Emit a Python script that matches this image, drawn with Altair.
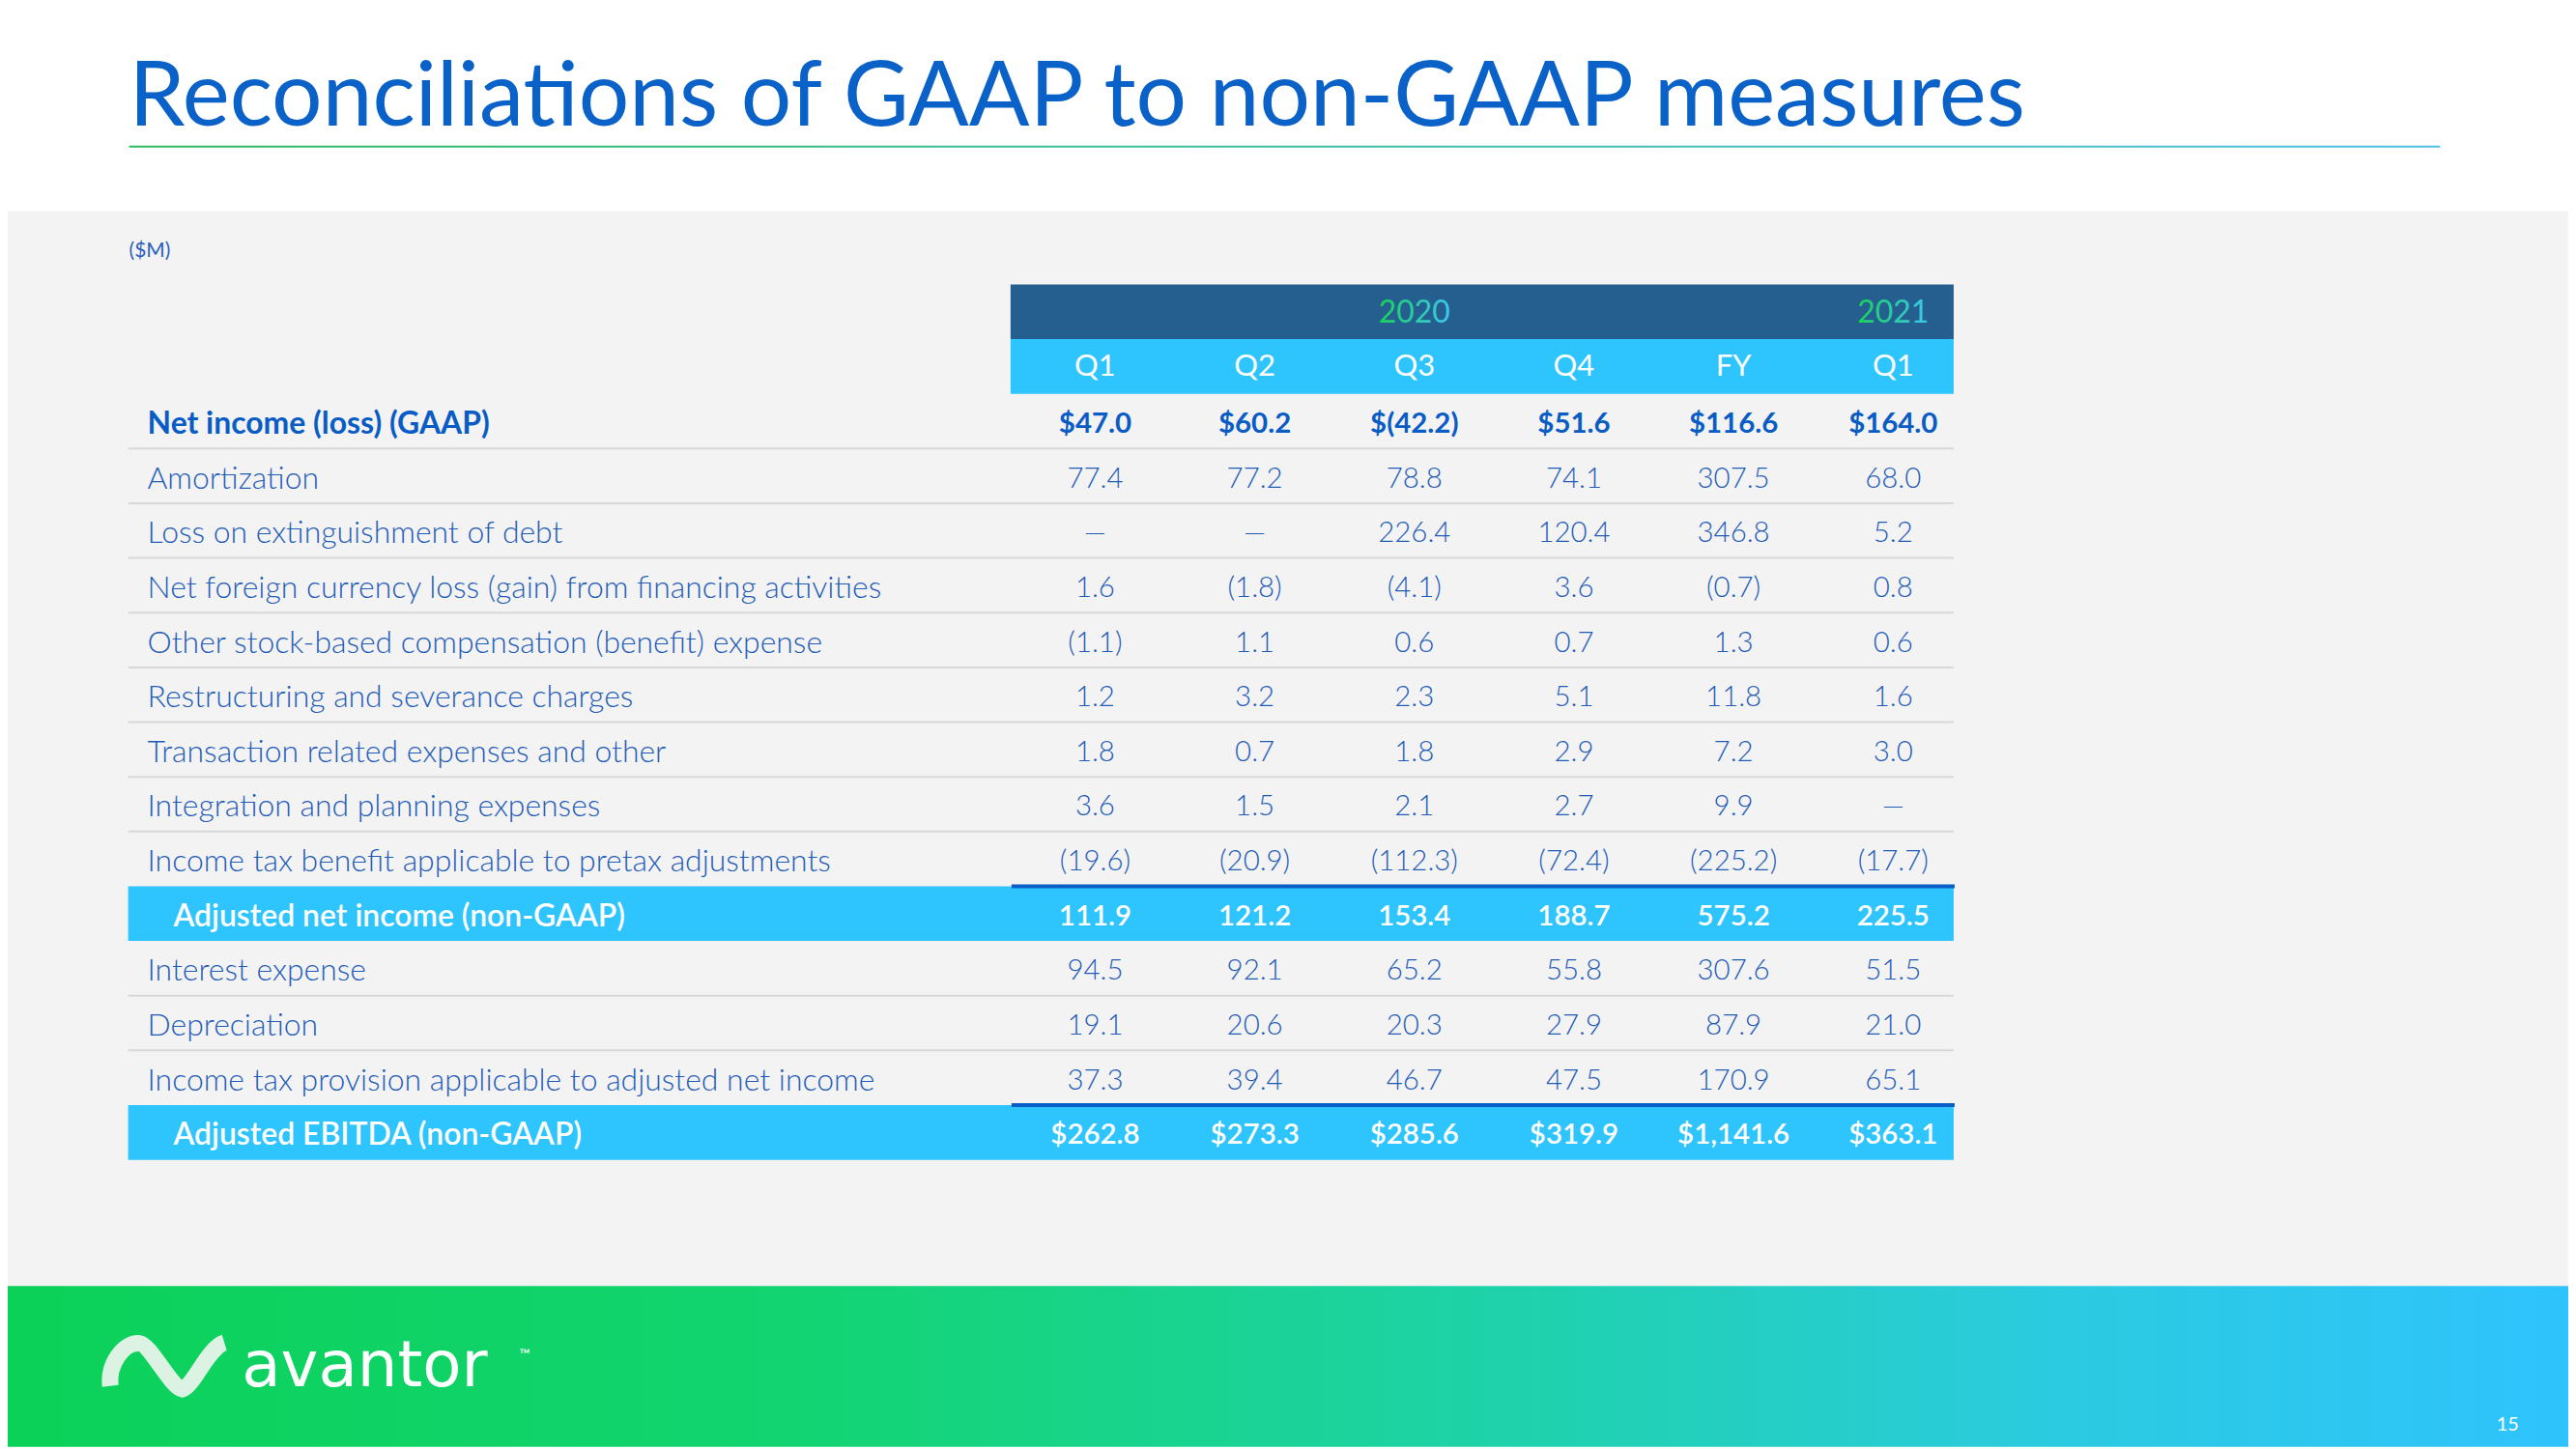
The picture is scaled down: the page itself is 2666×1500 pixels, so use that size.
import altair as alt
import pandas as pd

# ---------------- data ----------------
title = "Reconciliations of GAAP to non-GAAP measures"
unit_label = "($M)"
page_number = "15"
brand = "avantor"

cols = ["Q1 2020", "Q2 2020", "Q3 2020", "Q4 2020", "FY 2020", "Q1 2021"]
col_labels = ["Q1", "Q2", "Q3", "Q4", "FY", "Q1"]
years = ["2020", "2021"]
year_cols = ["Q3 2020", "Q1 2021"]

row_labels = [
    "Net income (loss) (GAAP)",
    "Amortization",
    "Loss on extinguishment of debt",
    "Net foreign currency loss (gain) from financing activities",
    "Other stock-based compensation (benefit) expense",
    "Restructuring and severance charges",
    "Transaction related expenses and other",
    "Integration and planning expenses",
    "Income tax benefit applicable to pretax adjustments",
    "Adjusted net income (non-GAAP)",
    "Interest expense",
    "Depreciation",
    "Income tax provision applicable to adjusted net income",
    "Adjusted EBITDA (non-GAAP)",
]
row_kinds = ["gaap"] + ["item"] * 8 + ["sub"] + ["item"] * 3 + ["sub"]

q1_2020 = ["$47.0", "77.4", "—", "1.6", "(1.1)", "1.2", "1.8", "3.6", "(19.6)", "111.9", "94.5", "19.1", "37.3", "$262.8"]
q2_2020 = ["$60.2", "77.2", "—", "(1.8)", "1.1", "3.2", "0.7", "1.5", "(20.9)", "121.2", "92.1", "20.6", "39.4", "$273.3"]
q3_2020 = ["$(42.2)", "78.8", "226.4", "(4.1)", "0.6", "2.3", "1.8", "2.1", "(112.3)", "153.4", "65.2", "20.3", "46.7", "$285.6"]
q4_2020 = ["$51.6", "74.1", "120.4", "3.6", "0.7", "5.1", "2.9", "2.7", "(72.4)", "188.7", "55.8", "27.9", "47.5", "$319.9"]
fy_2020 = ["$116.6", "307.5", "346.8", "(0.7)", "1.3", "11.8", "7.2", "9.9", "(225.2)", "575.2", "307.6", "87.9", "170.9", "$1,141.6"]
q1_2021 = ["$164.0", "68.0", "5.2", "0.8", "0.6", "1.6", "3.0", "—", "(17.7)", "225.5", "51.5", "21.0", "65.1", "$363.1"]
col_values = [q1_2020, q2_2020, q3_2020, q4_2020, fy_2020, q1_2021]

# ---------------- tables ----------------
HDR_YEAR, HDR_Q = "hdr_year", "hdr_q"
rows_df = pd.DataFrame({"row": row_labels, "kind": row_kinds})
rows_df["next"] = row_kinds[1:] + ["end"]
vals_df = pd.DataFrame(
    [
        {"col": c, "row": r, "kind": k, "val": v}
        for c, vs in zip(cols, col_values)
        for r, k, v in zip(row_labels, row_kinds, vs)
    ]
)
q_df = pd.DataFrame({"col": cols, "row": [HDR_Q] * len(cols), "lab": col_labels})
yr_df = pd.DataFrame({"col": year_cols, "row": [HDR_YEAR] * len(years), "lab": years})
hdr_df = pd.DataFrame({"row": [HDR_YEAR, HDR_Q]})
one = pd.DataFrame({"t": [title], "u": [unit_label], "p": [page_number], "b": [brand], "tm": ["™"]})

FONT = "Lato"
W, H = 2658, 1492
TX0, TX1 = 1041, 2020
LAB_FS, VAL_FS, DY = 32, 29.5, 3

y_scale = alt.Scale(domain=[HDR_YEAR, HDR_Q] + row_labels, range=[285, 1194], paddingInner=0, paddingOuter=0)
x_scale = alt.Scale(domain=cols, range=[1046, 2040], paddingInner=0, paddingOuter=0)
Y = alt.Y("row:N", scale=y_scale, axis=None)
X = alt.X("col:N", scale=x_scale, axis=None)

def lin_grad(stops):
    return alt.LinearGradient(
        gradient="linear",
        stops=[alt.GradientStop(color=c, offset=o) for o, c in stops],
        x1=0, x2=1, y1=0, y2=0,
    )

base1 = alt.Chart(one)

bg_gray = base1.mark_rect(color="#f3f3f3").encode(
    x=alt.value(0), x2=alt.value(W), y=alt.value(209), y2=alt.value(1325)
)
title_txt = base1.mark_text(
    align="left", baseline="alphabetic", font=FONT, fontSize=93, color="#0a62c9"
).encode(x=alt.value(126), y=alt.value(120), text="t:N")
title_line = base1.mark_rect(
    fill=lin_grad([(0, "#2dbb5f"), (0.5, "#3dbfa0"), (1, "#4fc1e6")])
).encode(x=alt.value(126), x2=alt.value(2525), y=alt.value(141), y2=alt.value(143))
unit_txt = base1.mark_text(
    align="left", baseline="middle", font=FONT, fontSize=21, color="#2a5fbf"
).encode(x=alt.value(126), y=alt.value(251), text="u:N")

hdr_dark = alt.Chart(hdr_df).transform_filter(alt.datum.row == HDR_YEAR).mark_rect(
    color="#245f8f"
).encode(x=alt.value(TX0), x2=alt.value(TX1), y=Y)
hdr_light = alt.Chart(hdr_df).transform_filter(alt.datum.row == HDR_Q).mark_rect(
    color="#2ec4fe"
).encode(x=alt.value(TX0), x2=alt.value(TX1), y=Y)

rows = alt.Chart(rows_df)
hl_rows = rows.transform_filter(alt.datum.kind == "sub").mark_rect(color="#2ec4fe").encode(
    x=alt.value(125), x2=alt.value(TX1), y=Y
)
sep_lines = rows.transform_filter(
    (alt.datum.kind != "sub") & (alt.datum.next != "sub") & (alt.datum.next != "end")
).mark_rule(color="#d8d8d8", strokeWidth=2).encode(
    x=alt.value(125), x2=alt.value(TX1),
    y=alt.Y("row:N", scale=y_scale, axis=None, bandPosition=1),
)
dark_lines = rows.transform_filter(alt.datum.kind == "sub").mark_rule(
    color="#0a5ec7", strokeWidth=4
).encode(
    x=alt.value(TX0 + 1), x2=alt.value(TX1 + 1),
    y=alt.Y("row:N", scale=y_scale, axis=None, bandPosition=0),
)

lab_item = rows.transform_filter(alt.datum.kind == "item").mark_text(
    align="left", baseline="middle", font=FONT, fontSize=LAB_FS, fontWeight=300, color="#1f5cb8", dy=DY
).encode(x=alt.value(145), y=Y, text="row:N")
lab_gaap = rows.transform_filter(alt.datum.kind == "gaap").mark_text(
    align="left", baseline="middle", font=FONT, fontSize=LAB_FS, fontWeight="bold", color="#0a5cc5", dy=DY
).encode(x=alt.value(145), y=Y, text="row:N")
lab_sub = rows.transform_filter(alt.datum.kind == "sub").mark_text(
    align="left", baseline="middle", font=FONT, fontSize=LAB_FS, fontWeight=600, color="white", dy=DY
).encode(x=alt.value(172), y=Y, text="row:N")

vals = alt.Chart(vals_df)
val_item = vals.transform_filter(alt.datum.kind == "item").mark_text(
    align="center", baseline="middle", font=FONT, fontSize=VAL_FS, fontWeight=300, color="#1f5cb8", dy=DY
).encode(x=X, y=Y, text="val:N")
val_gaap = vals.transform_filter(alt.datum.kind == "gaap").mark_text(
    align="center", baseline="middle", font=FONT, fontSize=VAL_FS, fontWeight="bold", color="#0a5cc5", dy=DY
).encode(x=X, y=Y, text="val:N")
val_sub = vals.transform_filter(alt.datum.kind == "sub").mark_text(
    align="center", baseline="middle", font=FONT, fontSize=VAL_FS, fontWeight=600, color="white", dy=DY
).encode(x=X, y=Y, text="val:N")

q_txt = alt.Chart(q_df).mark_text(
    align="center", baseline="middle", font=FONT, fontSize=31, color="white", dy=1
).encode(x=X, y=Y, text="lab:N")
yr_txt = alt.Chart(yr_df).mark_text(
    align="center", baseline="middle", font=FONT, fontSize=32, dy=1,
    fill=lin_grad([(0, "#1ccf5a"), (1, "#3cc8f0")]),
).encode(x=X, y=Y, text="lab:N")

footer = base1.mark_rect(
    fill=lin_grad([(0, "#0bd158"), (0.3, "#12d470"), (0.55, "#1dd3a2"), (0.8, "#2bcbe0"), (1, "#2fc3fd")])
).encode(x=alt.value(0), x2=alt.value(W), y=alt.value(1325), y2=alt.value(H))

logo_path = (
    "M -0.93 0.3 C -0.97 -0.05 -0.72 -0.39 -0.47 -0.37 "
    "C -0.3 -0.35 0.02 0.32 0.2 0.35 "
    "C 0.38 0.3 0.6 -0.3 0.86 -0.38"
)
logo_mark = base1.mark_point(
    shape=logo_path, size=17500, filled=False, stroke="#e8f5ec", strokeWidth=17,
    opacity=0.95, strokeCap="butt",
).encode(x=alt.value(168), y=alt.value(1409))
brand_txt = base1.mark_text(
    align="left", baseline="alphabetic", font="DejaVu Sans", fontSize=66, color="white"
).encode(x=alt.value(243), y=alt.value(1429), text="b:N")
tm_txt = base1.mark_text(
    align="left", baseline="middle", font=FONT, fontSize=15, color="white"
).encode(x=alt.value(531), y=alt.value(1396), text="tm:N")
page_txt = base1.mark_text(
    align="center", baseline="middle", font=FONT, fontSize=20, color="white"
).encode(x=alt.value(2595), y=alt.value(1469), text="p:N")

chart = alt.layer(
    bg_gray, title_line, title_txt, unit_txt,
    hdr_dark, hdr_light, hl_rows, sep_lines, dark_lines,
    lab_item, lab_gaap, lab_sub, val_item, val_gaap, val_sub,
    q_txt, yr_txt, footer, logo_mark, brand_txt, tm_txt, page_txt,
).properties(
    width=W, height=H, padding=0, autosize=alt.AutoSizeParams(type="none"),
    background="white",
).configure_view(strokeWidth=0)

chart.save("out.html", embed_options={"renderer": "svg", "actions": False})
